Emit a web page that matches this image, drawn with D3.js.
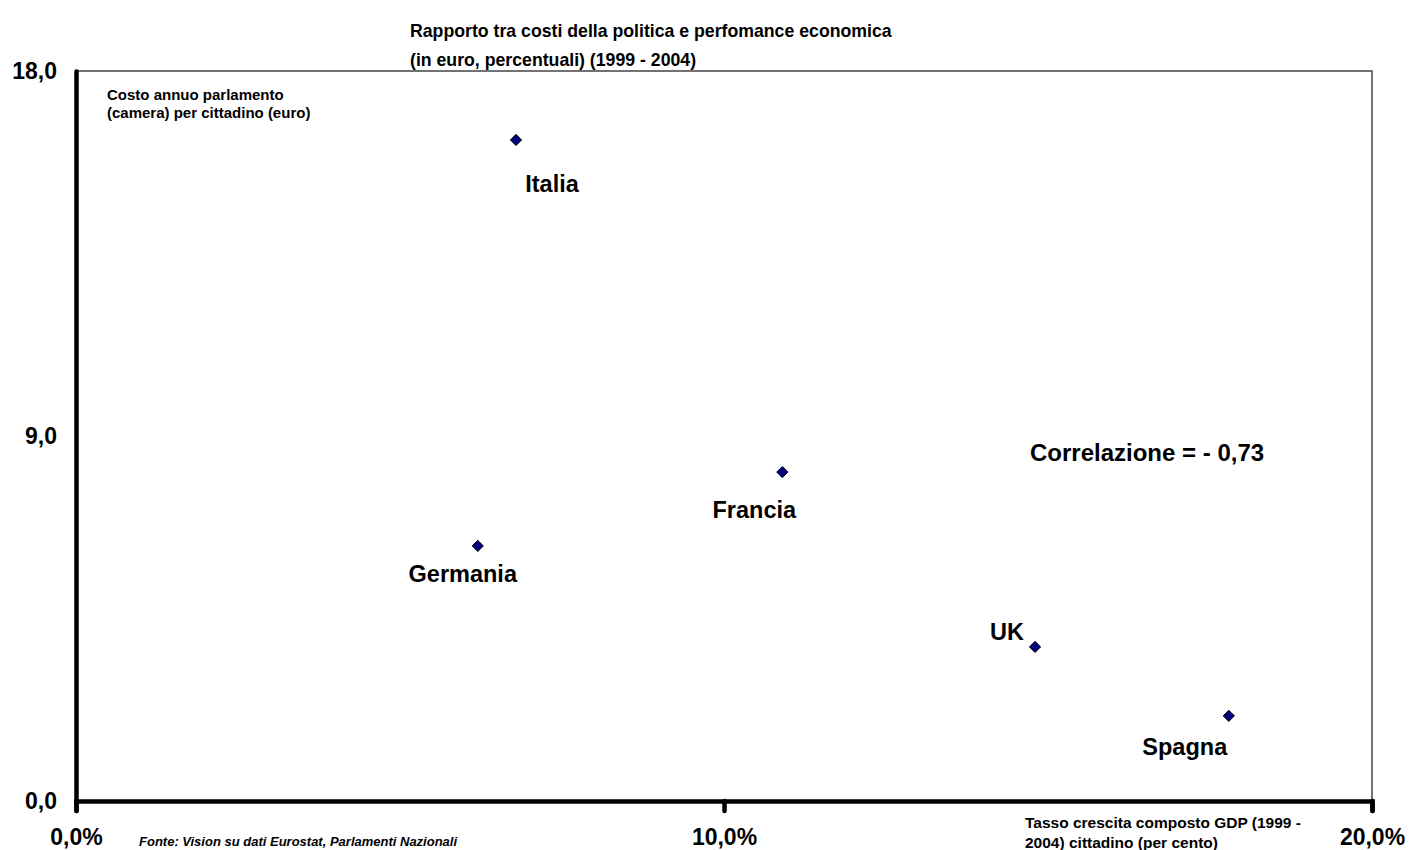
<!DOCTYPE html>
<html>
<head>
<meta charset="utf-8">
<script src="https://cdn.jsdelivr.net/npm/d3@7"></script>
<style>
  body { margin: 0; background: #fff; }
  text { font-family: "Liberation Sans", Arial, sans-serif; font-weight: bold; fill: #000; }
</style>
</head>
<body>
<div id="chart"></div>
<script>
// data
var countries = ["Italia", "Germania", "Francia", "UK", "Spagna"];
var gdpGrowth = [6.79, 6.20, 10.90, 14.80, 17.79];   // % (x)
var parlCost  = [16.30, 6.29, 8.11, 3.80, 2.10];     // euro (y)
var xTicks = [0, 10, 20];
var yTicks = [0, 9, 18];

// label offsets from each point (px)
var labelOffset = {
  "Italia":   {dx: 36,  dy: 52},
  "Germania": {dx: -15, dy: 36},
  "Francia":  {dx: -28, dy: 46},
  "UK":       {dx: -28, dy: -7},
  "Spagna":   {dx: -44, dy: 39}
};

var data = countries.map(function(c, i) {
  return {name: c, x: gdpGrowth[i], y: parlCost[i]};
});

var width = 1409, height = 850;
var margin = {top: 71, right: 37, bottom: 49, left: 76};

var svg = d3.select("#chart")
  .append("svg")
  .attr("width", width)
  .attr("height", height);

var x = d3.scaleLinear()
  .domain([0, 20])
  .range([margin.left, width - margin.right]);

var y = d3.scaleLinear()
  .domain([0, 18])
  .range([height - margin.bottom, margin.top]);

var fmt = function(v) { return d3.format(".1f")(v).replace(".", ","); };

// plot frame (thin top & right)
svg.append("path")
  .attr("d", "M" + x(0) + "," + y(18) + "H" + x(20) + "V" + y(0))
  .attr("fill", "none")
  .attr("stroke", "#444")
  .attr("stroke-width", 1.5);

// x axis
var xAxis = svg.append("g")
  .attr("transform", "translate(0," + y(0) + ")")
  .call(d3.axisBottom(x)
    .tickValues(xTicks)
    .tickSize(10)
    .tickPadding(18)
    .tickFormat(function(d) { return fmt(d) + "%"; }));
xAxis.select(".domain").attr("stroke", "#000").attr("stroke-width", 4.5).attr("stroke-linecap", "round");
xAxis.selectAll(".tick line").attr("stroke", "#000").attr("stroke-width", 4.5).attr("stroke-linecap", "round");
xAxis.selectAll(".tick text").style("font-size", "23px");

// y axis
var yAxis = svg.append("g")
  .attr("transform", "translate(" + x(0) + ",0)")
  .call(d3.axisLeft(y)
    .tickValues(yTicks)
    .tickSize(0)
    .tickPadding(19)
    .tickFormat(fmt));
yAxis.select(".domain").attr("stroke", "#000").attr("stroke-width", 4.5).attr("stroke-linecap", "round");
yAxis.selectAll(".tick text").style("font-size", "23px");

// points
svg.selectAll(".pt")
  .data(data)
  .enter().append("path")
  .attr("class", "pt")
  .attr("d", d3.symbol().type(d3.symbolDiamond2).size(80))
  .attr("transform", function(d) { return "translate(" + x(d.x) + "," + y(d.y) + ")"; })
  .attr("fill", "#000080")
  .attr("stroke", "#000")
  .attr("stroke-width", 1);

svg.selectAll(".lbl")
  .data(data)
  .enter().append("text")
  .attr("class", "lbl")
  .attr("x", function(d) { return x(d.x) + labelOffset[d.name].dx; })
  .attr("y", function(d) { return y(d.y) + labelOffset[d.name].dy; })
  .attr("text-anchor", "middle")
  .style("font-size", "23.5px")
  .text(function(d) { return d.name; });

// title
var title = svg.append("text")
  .style("font-size", "17.7px");
title.append("tspan").attr("x", 410).attr("y", 37).text("Rapporto tra costi della politica e perfomance economica");
title.append("tspan").attr("x", 410).attr("y", 66).text("(in euro, percentuali) (1999 - 2004)");

// y axis title
var yt = svg.append("text").style("font-size", "15px");
yt.append("tspan").attr("x", 107).attr("y", 100).text("Costo annuo parlamento");
yt.append("tspan").attr("x", 107).attr("y", 118).text("(camera) per cittadino (euro)");

// x axis title
var xt = svg.append("text").style("font-size", "15.5px");
xt.append("tspan").attr("x", 1025).attr("y", 828).text("Tasso crescita composto GDP (1999 -");
xt.append("tspan").attr("x", 1025).attr("y", 848).text("2004) cittadino (per cento)");

// source
svg.append("text")
  .attr("x", 139)
  .attr("y", 846)
  .style("font-size", "13px")
  .style("font-style", "italic")
  .text("Fonte: Vision su dati Eurostat, Parlamenti Nazionali");

// correlation
svg.append("text")
  .attr("x", 1030)
  .attr("y", 461)
  .style("font-size", "24px")
  .text("Correlazione = - 0,73");
</script>
</body>
</html>
